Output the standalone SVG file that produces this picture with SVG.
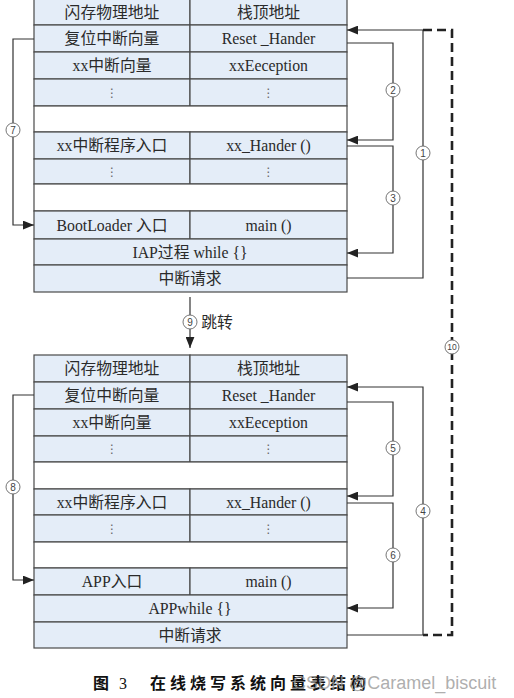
<svg xmlns="http://www.w3.org/2000/svg" width="514" height="698" viewBox="0 0 514 698">
<style>
.c{fill:#e4edf8;stroke:#4a4a4a;stroke-width:1.2}
.w{fill:#ffffff;stroke:#4a4a4a;stroke-width:1.2}
.t{font-family:"Liberation Serif","Noto Sans CJK SC",serif;font-size:15.8px;fill:#2a2a2a;text-anchor:middle;dominant-baseline:central}
.d{font-family:"DejaVu Sans",sans-serif;font-size:12px;fill:#666;text-anchor:middle;dominant-baseline:central}
.ln{fill:none;stroke:#333;stroke-width:1.2}
.dash{fill:none;stroke:#222;stroke-width:2.6;stroke-dasharray:9,5}
.lc{fill:#fff;stroke:#666;stroke-width:0.9}
.ld{font-family:"Liberation Sans",sans-serif;font-size:10px;fill:#444;text-anchor:middle;dominant-baseline:central}
.cap{font-family:"Noto Sans CJK SC",sans-serif;font-size:16px;font-weight:bold;fill:#111}
</style>
<defs>
<marker id="ah" viewBox="0 0 10 8" refX="10" refY="4" markerWidth="11" markerHeight="9" markerUnits="userSpaceOnUse" orient="auto">
<path d="M0,0 L10,4 L0,8 Z" fill="#222"/>
</marker>
</defs>

<g id="table-bootloader">
<g id="t1-r0"><rect class="c" x="34" y="-1" width="156" height="26"/><rect class="c" x="190" y="-1" width="157" height="26"/><text class="t" x="112" y="12">闪存物理地址</text><text class="t" x="268.5" y="12">栈顶地址</text></g>
<g id="t1-r1"><rect class="c" x="34" y="25" width="156" height="27"/><rect class="c" x="190" y="25" width="157" height="27"/><text class="t" x="112" y="38.5">复位中断向量</text><text class="t" x="268.5" y="38.5">Reset _Hander</text></g>
<g id="t1-r2"><rect class="c" x="34" y="52" width="156" height="27"/><rect class="c" x="190" y="52" width="157" height="27"/><text class="t" x="112" y="65.5">xx中断向量</text><text class="t" x="268.5" y="65.5">xxEeception</text></g>
<g id="t1-r3"><rect class="c" x="34" y="79" width="156" height="27"/><rect class="c" x="190" y="79" width="157" height="27"/><text class="d" x="112" y="92.5">⋮</text><text class="d" x="268.5" y="92.5">⋮</text></g>
<g id="t1-r4"><rect class="w" x="34" y="106" width="313" height="26"/></g>
<g id="t1-r5"><rect class="c" x="34" y="132" width="156" height="27"/><rect class="c" x="190" y="132" width="157" height="27"/><text class="t" x="112" y="145.5">xx中断程序入口</text><text class="t" x="268.5" y="145.5">xx_Hander ()</text></g>
<g id="t1-r6"><rect class="c" x="34" y="159" width="156" height="25"/><rect class="c" x="190" y="159" width="157" height="25"/><text class="d" x="112" y="171.5">⋮</text><text class="d" x="268.5" y="171.5">⋮</text></g>
<g id="t1-r7"><rect class="w" x="34" y="184" width="313" height="27"/></g>
<g id="t1-r8"><rect class="c" x="34" y="211" width="156" height="28"/><rect class="c" x="190" y="211" width="157" height="28"/><text class="t" x="112" y="225">BootLoader 入口</text><text class="t" x="268.5" y="225">main ()</text></g>
<g id="t1-r9"><rect class="c" x="34" y="239" width="313" height="26"/><text class="t" x="190" y="252">IAP过程 while {}</text></g>
<g id="t1-r10"><rect class="c" x="34" y="265" width="313" height="27"/><text class="t" x="190" y="278.5">中断请求</text></g>
</g>

<g id="table-app">
<g id="t2-r0"><rect class="c" x="34" y="355" width="156" height="27"/><rect class="c" x="190" y="355" width="157" height="27"/><text class="t" x="112" y="368.5">闪存物理地址</text><text class="t" x="268.5" y="368.5">栈顶地址</text></g>
<g id="t2-r1"><rect class="c" x="34" y="382" width="156" height="27"/><rect class="c" x="190" y="382" width="157" height="27"/><text class="t" x="112" y="395.5">复位中断向量</text><text class="t" x="268.5" y="395.5">Reset _Hander</text></g>
<g id="t2-r2"><rect class="c" x="34" y="409" width="156" height="27"/><rect class="c" x="190" y="409" width="157" height="27"/><text class="t" x="112" y="422.5">xx中断向量</text><text class="t" x="268.5" y="422.5">xxEeception</text></g>
<g id="t2-r3"><rect class="c" x="34" y="436" width="156" height="26"/><rect class="c" x="190" y="436" width="157" height="26"/><text class="d" x="112" y="449">⋮</text><text class="d" x="268.5" y="449">⋮</text></g>
<g id="t2-r4"><rect class="w" x="34" y="462" width="313" height="27"/></g>
<g id="t2-r5"><rect class="c" x="34" y="489" width="156" height="26"/><rect class="c" x="190" y="489" width="157" height="26"/><text class="t" x="112" y="502">xx中断程序入口</text><text class="t" x="268.5" y="502">xx_Hander ()</text></g>
<g id="t2-r6"><rect class="c" x="34" y="515" width="156" height="27"/><rect class="c" x="190" y="515" width="157" height="27"/><text class="d" x="112" y="528.5">⋮</text><text class="d" x="268.5" y="528.5">⋮</text></g>
<g id="t2-r7"><rect class="w" x="34" y="542" width="313" height="26"/></g>
<g id="t2-r8"><rect class="c" x="34" y="568" width="156" height="27"/><rect class="c" x="190" y="568" width="157" height="27"/><text class="t" x="112" y="581.5">APP入口</text><text class="t" x="268.5" y="581.5">main ()</text></g>
<g id="t2-r9"><rect class="c" x="34" y="595" width="313" height="27"/><text class="t" x="190" y="608.5">APPwhile {}</text></g>
<g id="t2-r10"><rect class="c" x="34" y="622" width="313" height="26"/><text class="t" x="190" y="635">中断请求</text></g>
</g>

<g id="connectors">
<path class="ln" d="M34,39 H13 V225 H34" marker-end="url(#ah)"/>
<path class="ln" d="M347,43 H393 V140 H347" marker-end="url(#ah)"/>
<path class="ln" d="M347,146 H393 V253 H347" marker-end="url(#ah)"/>
<path class="ln" d="M347,278 H423 V30 H347" marker-end="url(#ah)"/>
<path class="dash" d="M423,30 H452 V635 H423"/>
<path class="ln" d="M34,395 H13 V580 H34" marker-end="url(#ah)"/>
<path class="ln" d="M347,402 H393 V496 H347" marker-end="url(#ah)"/>
<path class="ln" d="M347,503 H393 V608 H347" marker-end="url(#ah)"/>
<path class="ln" d="M347,635 H423 V387 H347" marker-end="url(#ah)"/>
<path class="ln" d="M190,297 V348" marker-end="url(#ah)"/>
<g id="labels">
<circle class="lc" cx="13" cy="130" r="7"/><text class="ld" x="13" y="130">7</text>
<circle class="lc" cx="393" cy="90" r="7"/><text class="ld" x="393" y="90">2</text>
<circle class="lc" cx="393" cy="198" r="7"/><text class="ld" x="393" y="198">3</text>
<circle class="lc" cx="423" cy="153" r="7"/><text class="ld" x="423" y="153">1</text>
<circle class="lc" cx="452" cy="347" r="7"/><text class="ld" x="452" y="347" style="font-size:8.5px">10</text>
<circle class="lc" cx="13" cy="487" r="7"/><text class="ld" x="13" y="487">8</text>
<circle class="lc" cx="393" cy="448" r="7"/><text class="ld" x="393" y="448">5</text>
<circle class="lc" cx="393" cy="555" r="7"/><text class="ld" x="393" y="555">6</text>
<circle class="lc" cx="423" cy="511" r="7"/><text class="ld" x="423" y="511">4</text>
<circle class="lc" cx="190" cy="322" r="7"/><text class="ld" x="190" y="322">9</text>
<text class="t" x="217" y="322">跳转</text>
</g>
</g>

<g id="caption">
<text class="cap" x="93" y="689">图</text>
<text x="119" y="689" style="font-family:'Liberation Serif',serif;font-size:16px;fill:#111">3</text>
<text class="cap" x="150" y="689" style="letter-spacing:4px">在线烧写系统向量表结构</text>
<text x="293" y="689" style="font-family:'Liberation Sans',sans-serif;font-size:18px;fill:#999;fill-opacity:0.8">CSDN @Caramel_biscuit</text>
</g>
</svg>
